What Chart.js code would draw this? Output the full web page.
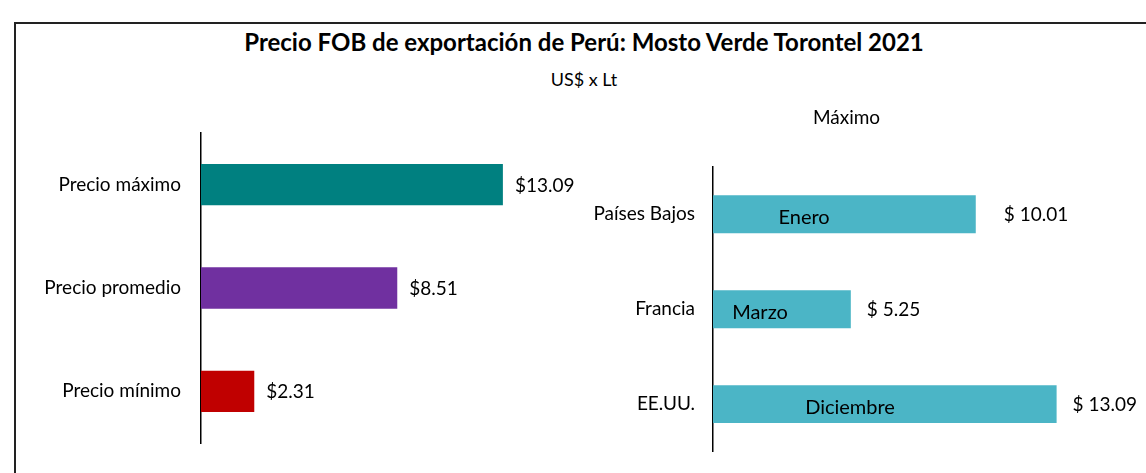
<!DOCTYPE html>
<html>
<head>
<meta charset="utf-8">
<script src="https://cdn.jsdelivr.net/npm/chart.js@4/dist/chart.umd.min.js"></script>
<style>
  html, body { margin: 0; padding: 0; background: #fff; }
  body { width: 1146px; height: 473px; position: relative; overflow: hidden; font-family: Lato, sans-serif; }
  #frame { position: absolute; left: 14px; top: 22px; width: 1200px; height: 500px; border-left: 2px solid #222; border-top: 2px solid #222; }
  #title { position: absolute; left: 0; width: 1168px; top: 27px; text-align: center; font-weight: bold; font-size: 24px; line-height: 29px; color: #000; }
  #subtitle { position: absolute; left: 0; width: 1168px; top: 68px; text-align: center; font-size: 18px; line-height: 22px; color: #000; }
  #left { position: absolute; left: 0; top: 0; }
  #right { position: absolute; left: 560px; top: 0; }
</style>
</head>
<body>
<div id="frame"></div>
<div id="title">Precio FOB de exportación de Perú: Mosto Verde Torontel 2021</div>
<div id="subtitle">US$ x Lt</div>
<canvas id="left" width="600" height="473"></canvas>
<canvas id="right" width="586" height="473"></canvas>
<script>
// left chart: summary prices
const precioLabels = ['Precio máximo', 'Precio promedio', 'Precio mínimo'];
const precioValues = [13.09, 8.51, 2.31];
const precioColors = ['#008080', '#7030a0', '#c00000'];

// right chart: maximum by destination
const paisLabels = ['Países Bajos', 'Francia', 'EE.UU.'];
const paisValues = [10.01, 5.25, 13.09];
const paisMeses = ['Enero', 'Marzo', 'Diciembre'];

const FONT = 'Lato, sans-serif';

// draws "$x.xx" after each bar, plus optional month text inside
const valueLabels = {
    id: 'valueLabels',
    afterDatasetsDraw(chart, args, opts) {
        const ctx = chart.ctx;
        const meta = chart.getDatasetMeta(0);
        const xScale = chart.scales.x;
        ctx.save();
        ctx.fillStyle = '#000';
        ctx.textBaseline = 'middle';
        meta.data.forEach((bar, i) => {
            const v = chart.data.datasets[0].data[i];
            ctx.font = '19px ' + FONT;
            ctx.textAlign = 'left';
            const off = opts.offsets ? opts.offsets[i] : opts.offset;
            ctx.fillText(opts.prefix + v.toFixed(2), bar.x + off, bar.y + 1);
            if (opts.inside) {
                ctx.font = '20px ' + FONT;
                ctx.textAlign = 'center';
                ctx.fillText(opts.inside[i], xScale.getPixelForValue(opts.insideAt[i]), bar.y + 3);
            }
        });
        ctx.restore();
    }
};

function fixedAxisWidth(w) {
    return function (scale) { scale.width = w; };
}

new Chart(document.getElementById('left'), {
    type: 'bar',
    data: {
        labels: precioLabels,
        datasets: [{ data: precioValues, backgroundColor: precioColors, barPercentage: 0.4, categoryPercentage: 1 }]
    },
    options: {
        indexAxis: 'y',
        responsive: false,
        animation: false,
        layout: { padding: { top: 133, bottom: 30, right: 30 } },
        plugins: {
            legend: { display: false },
            tooltip: { enabled: false },
            valueLabels: { prefix: '$', offset: 12 }
        },
        scales: {
            x: { display: false, min: 0, max: 16 },
            y: {
                afterFit: fixedAxisWidth(201),
                grid: { display: false },
                border: { display: true, color: '#000', width: 1.5 },
                ticks: { color: '#000', padding: 12, font: { family: FONT, size: 19 } }
            }
        }
    },
    plugins: [valueLabels]
});

new Chart(document.getElementById('right'), {
    type: 'bar',
    data: {
        labels: paisLabels,
        datasets: [{ data: paisValues, backgroundColor: '#4bb5c6', barPercentage: 0.4, categoryPercentage: 1 }]
    },
    options: {
        indexAxis: 'y',
        responsive: false,
        animation: false,
        layout: { padding: { top: 106, bottom: 10, right: 13 } },
        plugins: {
            legend: { display: false },
            tooltip: { enabled: false },
            title: {
                display: true,
                text: 'Máximo',
                color: '#000',
                font: { family: FONT, size: 19, weight: 'normal' },
                padding: { top: 0, bottom: 38 }
            },
            valueLabels: {
                prefix: '$ ', offsets: [28, 16, 16],
                inside: paisMeses, insideAt: [3.47, 1.79, 5.22]
            }
        },
        scales: {
            x: { display: false, min: 0, max: 16 },
            y: {
                afterFit: fixedAxisWidth(153),
                grid: { display: false },
                border: { display: true, color: '#000', width: 1.5 },
                ticks: { color: '#000', padding: 10, font: { family: FONT, size: 19 } }
            }
        }
    },
    plugins: [valueLabels]
});
</script>
</body>
</html>
